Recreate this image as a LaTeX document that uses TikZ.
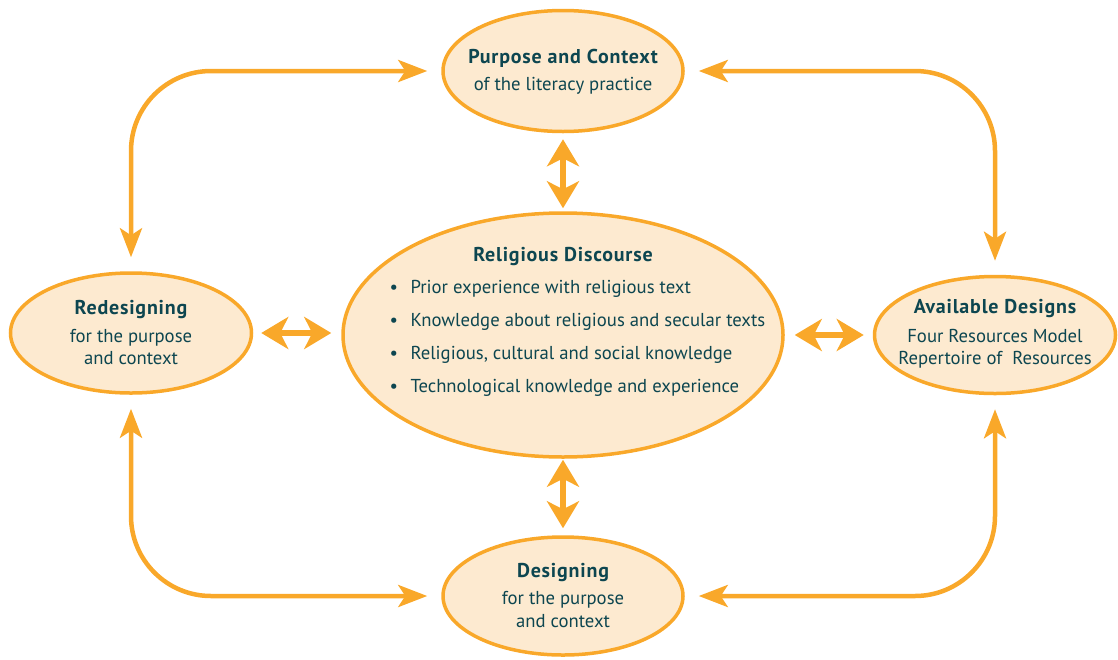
\documentclass[tikz,border=0pt]{standalone}
\usepackage{fontspec}
\setmainfont{PT Sans}
\usetikzlibrary{shapes.geometric,arrows.meta}
\definecolor{amber}{HTML}{F9A82A}
\definecolor{peach}{HTML}{FDEAD0}
\definecolor{ink}{HTML}{0D4650}
\begin{document}
\begin{tikzpicture}[x=1pt,y=-1pt,
  oval/.style={ellipse,draw=amber,fill=peach,line width=3.5pt,inner sep=0pt},
  head/.style={text=ink,font=\fontsize{20}{22}\selectfont\bfseries\addfontfeature{LetterSpace=4},anchor=base},
  body/.style={text=ink,font=\fontsize{18.7}{22}\selectfont,anchor=base},
  item/.style={text=ink,font=\fontsize{18.7}{22}\selectfont,anchor=base west},
  loopline/.style={draw=amber,line width=4.5pt,rounded corners=80pt,
    {Stealth[length=29pt,width=22pt,inset=7pt]}-{Stealth[length=29pt,width=22pt,inset=7pt]},
    shorten <=14pt,shorten >=14pt},
  link/.style={draw=amber,line width=5.5pt,
    {Stealth[length=27pt,width=32pt,inset=8pt]}-{Stealth[length=27pt,width=32pt,inset=8pt]}}
]
\useasboundingbox (0,0) rectangle (1118,659);

% ellipses
\node[oval,minimum width=240pt,minimum height=121pt] (purpose) at (563,71) {};
\node[oval,minimum width=440pt,minimum height=244pt] (disc) at (563,335) {};
\node[oval,minimum width=241pt,minimum height=120pt] (redesign) at (131,333) {};
\node[oval,minimum width=241pt,minimum height=117pt] (avail) at (995,335) {};
\node[oval,minimum width=240pt,minimum height=118pt] (design) at (563,596) {};

% corner loops
\draw[loopline] (purpose.west) -| (redesign.north);
\draw[loopline] (purpose.east) -| (avail.north);
\draw[loopline] (design.west) -| (redesign.south);
\draw[loopline] (design.east) -| (avail.south);

% links to the central ellipse
\draw[link,shorten <=6pt,shorten >=3pt] (purpose.south) -- (disc.north);
\draw[link,shorten <=1pt,shorten >=7pt] (disc.south) -- (design.north);
\draw[link,shorten <=8pt,shorten >=10pt] (redesign.east) -- (redesign.east -| disc.west);
\draw[link,shorten <=10pt,shorten >=9pt] (avail.west -| disc.east) -- (avail.west);

% texts
\node[head] (t1) at (563,63) {Purpose and Context};
\node[body] (t2) at (563,90) {of the literacy practice};

\node[head] (t3) at (131,314) {Redesigning};
\node[body] (t4) at (131,342) {for the purpose};
\node[body] (t5) at (131,364) {and context};

\node[head] (t6) at (995,313) {Available Designs};
\node[body] (t7) at (995,342) {Four Resources Model};
\node[body] (t8) at (995,364) {Repertoire of\ \ Resources};

\node[head] (t9) at (563,577) {Designing};
\node[body] (t10) at (563,604) {for the purpose};
\node[body] (t11) at (563,627) {and context};

\node[head] (t12) at (563,261) {Religious Discourse};
\node[item] (b1) at (386,293) {\makebox[21pt][l]{\textbullet}Prior experience with religious text};
\node[item] (b2) at (386,326) {\makebox[21pt][l]{\textbullet}Knowledge about religious and secular texts};
\node[item] (b3) at (386,359) {\makebox[21pt][l]{\textbullet}Religious, cultural and social knowledge};
\node[item] (b4) at (386,392) {\makebox[21pt][l]{\textbullet}Technological knowledge and experience};
\end{tikzpicture}
\end{document}
